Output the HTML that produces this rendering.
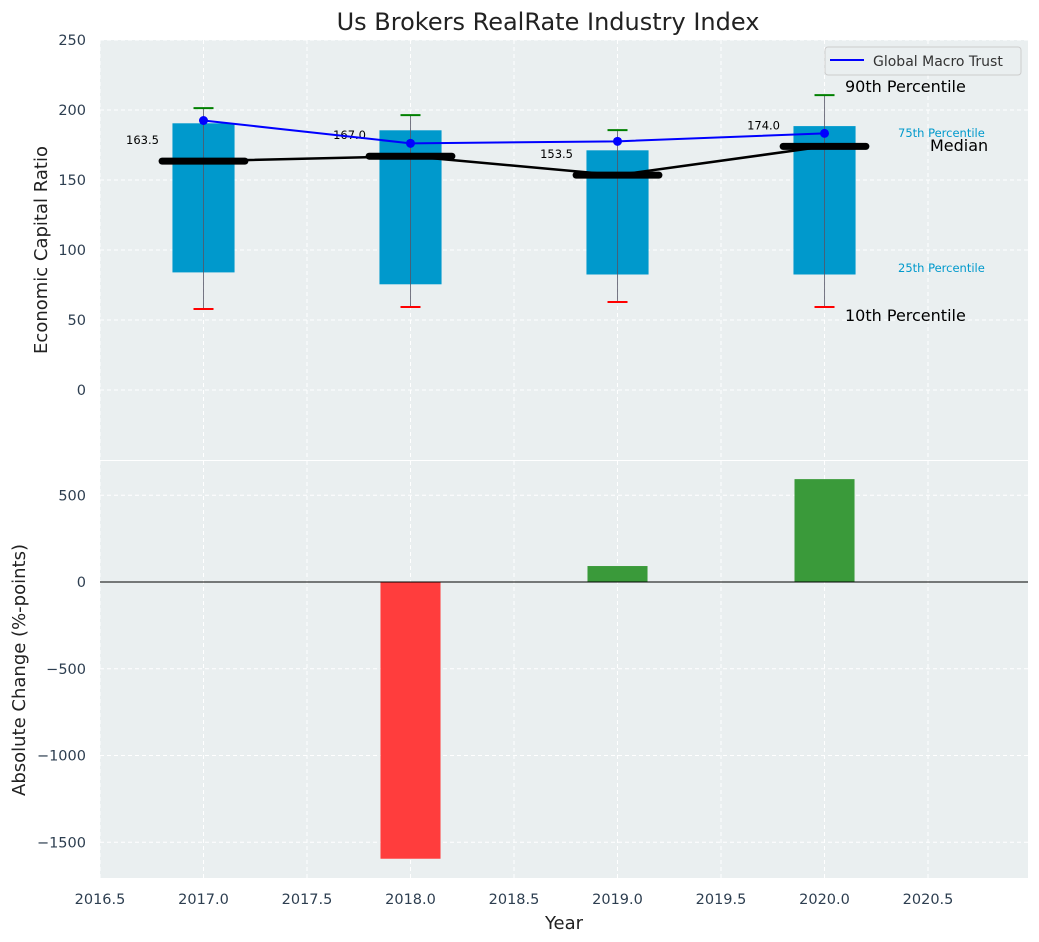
<!DOCTYPE html>
<html><head><meta charset="utf-8"><style>
body{margin:0;background:#fff;}
svg{display:block;font-family:"DejaVu Sans","Liberation Sans",sans-serif;}
</style></head><body>
<svg id="chart" width="1039" height="942" xmlns="http://www.w3.org/2000/svg"></svg>
<script>
const years=[2017,2018,2019,2020];
const p10=[57.9,59.3,62.9,59.3];
const p25=[84,75.5,82.5,82.5];
const medians=[163.5,167.0,153.5,174.0];
const p75=[190.5,185.5,171.2,188.5];
const p90=[201.3,196.3,185.6,210.6];
const fundValues=[192.5,176.2,177.6,183.3];
const changes=[0,-1595,92,593];
const xTicks=[2016.5,2017,2017.5,2018,2018.5,2019,2019.5,2020,2020.5];
const topTicks=[0,50,100,150,200,250];
const botTicks=[-1500,-1000,-500,0,500];

const svg=document.getElementById('chart');
const NS='http://www.w3.org/2000/svg';
function mk(tag,attrs,parent,text){const e=document.createElementNS(NS,tag);for(const k in attrs)e.setAttribute(k,attrs[k]);if(text!==undefined)e.textContent=text;(parent||svg).appendChild(e);return e;}
const L=100,R=1028;
const x=v=>L+(v-2016.5)/(2020.983-2016.5)*(R-L);
const T0=40,T1=460;const yT=v=>T1-(v+50)/300*(T1-T0);
const B0=461,B1=878;const yB0=582,bScale=86.75/500;const yB=v=>yB0-v*bScale;

mk('text',{x:548,y:30,'text-anchor':'middle','font-size':24,fill:'#222',},svg,'Us Brokers RealRate Industry Index');
const g1=mk('g',{});
mk('rect',{x:L,y:T0,width:R-L,height:T1-T0,fill:'#eaeff0'},g1);
const g2=mk('g',{});
mk('rect',{x:L,y:B0,width:R-L,height:B1-B0,fill:'#eaeff0'},g2);
xTicks.forEach(t=>{
 [g1,g2].forEach((g,i)=>{mk('line',{x1:x(t),x2:x(t),y1:i?B0:T0,y2:i?B1:T1,stroke:'#fff','stroke-dasharray':'4,3','stroke-width':1},g);});
 const tl=mk('text',{x:x(t),y:904,'text-anchor':'middle','font-size':14.5,fill:'#2d3e50'},svg,t.toFixed(1));
 
});
topTicks.forEach(t=>{
 mk('line',{x1:L,x2:R,y1:yT(t),y2:yT(t),stroke:'#fff','stroke-dasharray':'4,3'},g1);
 const tl=mk('text',{x:86,y:yT(t)+5,'text-anchor':'end','font-size':14.5,fill:'#2d3e50'},svg,String(t));
 
});
botTicks.forEach(t=>{
 mk('line',{x1:L,x2:R,y1:yB(t),y2:yB(t),stroke:'#fff','stroke-dasharray':'4,3'},g2);
 const tl=mk('text',{x:86,y:yB(t)+5,'text-anchor':'end','font-size':14.5,fill:'#2d3e50'},svg,String(t).replace('-','\u2212'));
 
});
years.forEach((yr,i)=>{
 const g=mk('g',{},g1);
 
 const bw=0.3;
 mk('rect',{x:x(yr-bw/2),y:yT(p75[i]),width:x(yr+bw/2)-x(yr-bw/2),height:yT(p25[i])-yT(p75[i]),fill:'#0099cc'},g);
 mk('line',{x1:x(yr),x2:x(yr),y1:yT(p90[i]),y2:yT(p10[i]),stroke:'#556',"stroke-width":1,opacity:0.8},g);
 mk('line',{x1:x(yr)-10,x2:x(yr)+10,y1:yT(p90[i]),y2:yT(p90[i]),stroke:'green','stroke-width':2},g);
 mk('line',{x1:x(yr)-10,x2:x(yr)+10,y1:yT(p10[i]),y2:yT(p10[i]),stroke:'red','stroke-width':2},g);
});
mk('polyline',{points:years.map((yr,i)=>x(yr)+','+yT(medians[i])).join(' '),fill:'none',stroke:'#000','stroke-width':2.5,},g1);
years.forEach((yr,i)=>{
 const m=mk('line',{x1:x(yr-0.2),x2:x(yr+0.2),y1:yT(medians[i]),y2:yT(medians[i]),stroke:'#000','stroke-width':7,'stroke-linecap':'round'},g1);
 
 const t=mk('text',{x:x(yr-0.215),y:yT(medians[i])-17,'text-anchor':'end','font-size':11.5,fill:'#000'},g1,medians[i].toFixed(1));
 
});
mk('polyline',{points:years.map((yr,i)=>x(yr)+','+yT(fundValues[i])).join(' '),fill:'none',stroke:'blue','stroke-width':2,},g1);
years.forEach((yr,i)=>{const c=mk('circle',{cx:x(yr),cy:yT(fundValues[i]),r:4.5,fill:'blue'},g1);});
mk('text',{x:845,y:92,'font-size':16,fill:'#000',},g1,'90th Percentile');
mk('text',{x:898,y:137,'font-size':11.5,fill:'#0099cc',},g1,'75th Percentile');
mk('text',{x:930,y:151,'font-size':16,fill:'#000',},g1,'Median');
mk('text',{x:898,y:272,'font-size':11.5,fill:'#0099cc',},g1,'25th Percentile');
mk('text',{x:845,y:321,'font-size':16,fill:'#000',},g1,'10th Percentile');
const lg=mk('g',{});
mk('rect',{x:825,y:47,width:196,height:28,rx:3,fill:'#eaeff0',stroke:'#ccc'},lg);
mk('line',{x1:830,x2:864,y1:60,y2:60,stroke:'blue','stroke-width':2},lg);
mk('text',{x:873,y:66,'font-size':14,fill:'#333'},lg,'Global Macro Trust');
years.forEach((yr,i)=>{
 const v=changes[i];if(v===0)return;
 const r=mk('rect',{x:x(yr-0.145),y:Math.min(yB(v),yB(0)),width:x(yr+0.145)-x(yr-0.145),height:Math.abs(yB(v)-yB(0)),fill:v<0?'#ff3d3d':'#3a9a3a'},g2);
 
});
mk('line',{x1:L,x2:R,y1:yB(0),y2:yB(0),stroke:'#000','stroke-width':1,},g2);
mk('text',{x:0,y:0,transform:'translate(47,250) rotate(-90)','text-anchor':'middle','font-size':18,fill:'#222',},svg,'Economic Capital Ratio');
mk('text',{x:0,y:0,transform:'translate(25,670) rotate(-90)','text-anchor':'middle','font-size':18,fill:'#222',},svg,'Absolute Change (%-points)');
mk('text',{x:564,y:929,'text-anchor':'middle','font-size':18,fill:'#222',},svg,'Year');
</script>
</body></html>
